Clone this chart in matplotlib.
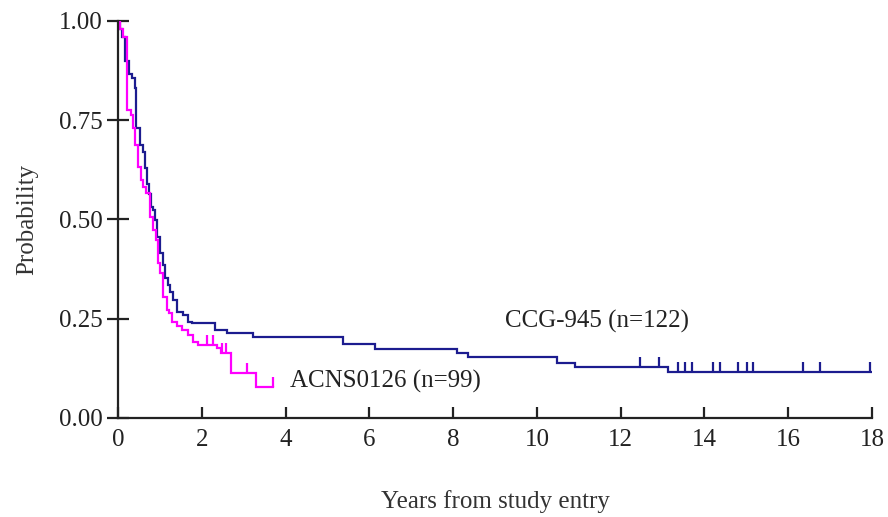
import numpy as np
import matplotlib
matplotlib.use("Agg")
import matplotlib.pyplot as plt

# CCG-945 (n=122) step times (years) and survival after each step
ccg_times = [0.05, 0.10, 0.17, 0.26, 0.33, 0.41, 0.43, 0.53, 0.60, 0.64, 0.69, 0.74,
             0.79, 0.84, 0.88, 0.93, 1.00, 1.07, 1.12, 1.19, 1.24, 1.31, 1.41, 1.55,
             1.67, 1.77, 2.32, 2.60, 3.22, 5.37, 6.13, 8.09, 8.35, 10.48, 10.91, 13.13]
ccg_surv = [0.98, 0.96, 0.90, 0.866, 0.856, 0.831, 0.73, 0.688, 0.670, 0.630, 0.589, 0.565,
            0.531, 0.524, 0.499, 0.456, 0.416, 0.385, 0.353, 0.335, 0.317, 0.297, 0.267, 0.259,
            0.242, 0.239, 0.222, 0.214, 0.204, 0.186, 0.174, 0.164, 0.154, 0.139, 0.128, 0.116]
ccg_end = 18.0
ccg_censor = [12.46, 12.91, 13.37, 13.53, 13.70, 14.20, 14.37, 14.80, 15.01, 15.16,
              16.35, 16.75, 17.95]

# ACNS0126 (n=99)
acns_times = [0.05, 0.12, 0.21, 0.31, 0.36, 0.41, 0.48, 0.55, 0.60, 0.67, 0.76, 0.84,
              0.91, 0.95, 1.00, 1.07, 1.17, 1.22, 1.29, 1.41, 1.53, 1.67, 1.79, 1.91,
              2.36, 2.46, 2.70, 3.29]
acns_surv = [0.98, 0.96, 0.776, 0.763, 0.73, 0.688, 0.632, 0.60, 0.582, 0.567, 0.506, 0.474,
             0.448, 0.39, 0.365, 0.305, 0.272, 0.264, 0.242, 0.232, 0.222, 0.209, 0.192, 0.184,
             0.176, 0.164, 0.113, 0.078]
acns_end = 3.70
acns_censor = [2.12, 2.27, 2.48, 2.58, 3.08, 3.70]

x_ticks = [0, 2, 4, 6, 8, 10, 12, 14, 16, 18]
y_ticks = [0.00, 0.25, 0.50, 0.75, 1.00]
y_tick_labels = ["0.00", "0.25", "0.50", "0.75", "1.00"]

BLUE = "#1c1c8f"
PINK = "#ff00ff"
FS = 18

plt.rcParams['font.family'] = ['Liberation Serif', 'DejaVu Serif']

fig = plt.figure(figsize=(8.88, 5.17), dpi=100)
ax = fig.add_axes([0.1329, 0.1915, 0.8491, 0.7679])


def km(ax, times, surv, end, censor, color):
    t = np.r_[0.0, times, end]
    s = np.r_[1.0, surv, surv[-1]]
    ax.step(t, s, where='post', color=color, lw=1.6, solid_joinstyle='miter')
    ct = np.asarray(censor)
    idx = np.searchsorted(np.asarray(times), ct, side='right') - 1
    cs = np.where(idx >= 0, np.asarray(surv)[np.clip(idx, 0, None)], 1.0)
    ax.vlines(ct, cs, cs + 0.025, color=color, lw=1.6)


km(ax, ccg_times, ccg_surv, ccg_end, ccg_censor, BLUE)
km(ax, acns_times, acns_surv, acns_end, acns_censor, PINK)

ax.set_xlim(0, 18)
ax.set_ylim(0, 1.0)
ax.set_xticks(x_ticks)
ax.set_yticks(y_ticks)
ax.set_yticklabels(y_tick_labels)
for sp in ['top', 'right']:
    ax.spines[sp].set_visible(False)
for sp in ['left', 'bottom']:
    ax.spines[sp].set_linewidth(1.6)
    ax.spines[sp].set_color('#222222')
ax.tick_params(axis='y', direction='inout', length=16, width=1.6, labelsize=FS,
               colors='#222222', pad=3)
ax.tick_params(axis='x', direction='in', length=8, width=1.6, labelsize=FS,
               colors='#222222', pad=8)

ax.set_ylabel("Probability", fontsize=FS, color='#333333', labelpad=15)
ax.set_xlabel("Years from study entry", fontsize=FS, color='#333333', labelpad=28)

ax.text(9.24, 0.243, "CCG-945 (n=122)", fontsize=FS, color='#222222', va='center', ha='left')
ax.text(4.1, 0.093, "ACNS0126 (n=99)", fontsize=FS, color='#222222', va='center', ha='left')

fig.savefig("out.png", dpi=100)
